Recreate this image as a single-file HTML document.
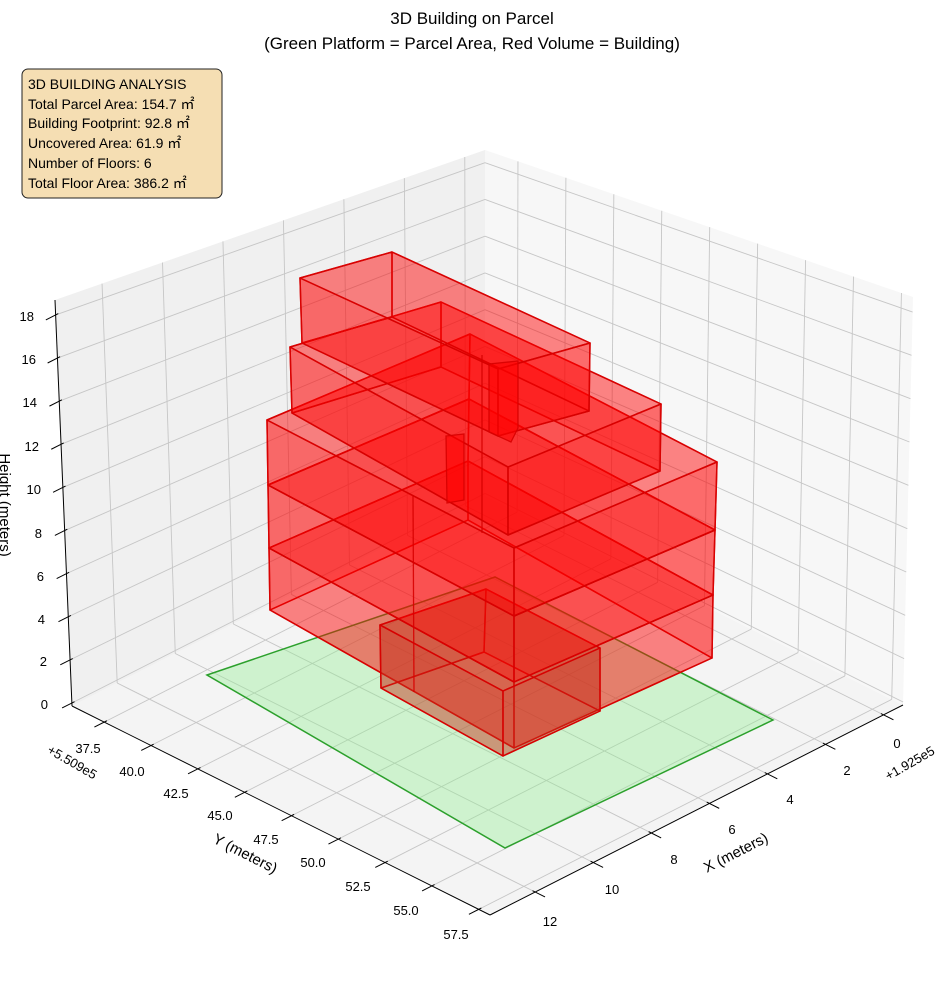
<!DOCTYPE html>
<html><head><meta charset="utf-8">
<style>
html,body{margin:0;padding:0;background:#fff;}
svg{display:block;font-family:"Liberation Sans","Noto Sans CJK JP",sans-serif;}
</style></head>
<body>
<svg id="s" width="944" height="992" viewBox="0 0 944 992" xmlns="http://www.w3.org/2000/svg">
<g id="panes"></g>
<g id="grid"></g>
<polygon points="207,675 495,577 773,720 505,848" fill="rgba(144,238,144,0.38)" stroke="#2ca02c" stroke-width="1.5"/>
<g id="bld"></g>
<g id="axes"></g>
<g font-size="17" fill="#000" text-anchor="middle">
<text x="472" y="24">3D Building on Parcel</text>
<text x="472" y="49">(Green Platform = Parcel Area, Red Volume = Building)</text>
</g>
<rect x="22" y="69" width="200" height="129" rx="6" fill="#f5deb3" stroke="#222" stroke-width="1"/>
<g font-size="14" fill="#000">
<text x="28" y="89">3D BUILDING ANALYSIS</text>
<text x="28" y="109">Total Parcel Area: 154.7 ㎡</text>
<text x="28" y="128">Building Footprint: 92.8 ㎡</text>
<text x="28" y="148">Uncovered Area: 61.9 ㎡</text>
<text x="28" y="168">Number of Floors: 6</text>
<text x="28" y="188">Total Floor Area: 386.2 ㎡</text>
</g>
<g font-size="13" fill="#000" text-anchor="end">
<text x="34" y="321">18</text>
<text x="36" y="364">16</text>
<text x="37" y="407">14</text>
<text x="39" y="451">12</text>
<text x="41" y="494">10</text>
<text x="42" y="538">8</text>
<text x="44" y="581">6</text>
<text x="45" y="624">4</text>
<text x="47" y="666">2</text>
<text x="48" y="709">0</text>
</g>
<g font-size="13" fill="#000" text-anchor="middle">
<text x="88" y="753">37.5</text>
<text x="132" y="776">40.0</text>
<text x="176" y="798">42.5</text>
<text x="220" y="820">45.0</text>
<text x="266" y="844">47.5</text>
<text x="313" y="867">50.0</text>
<text x="358" y="891">52.5</text>
<text x="406" y="915">55.0</text>
<text x="456" y="939">57.5</text>
<text x="897" y="748">0</text>
<text x="847" y="775">2</text>
<text x="790" y="804">4</text>
<text x="732" y="834">6</text>
<text x="674" y="864">8</text>
<text x="612" y="894">10</text>
<text x="550" y="926">12</text>
<text transform="translate(70,766) rotate(30)">+5.509e5</text>
<text transform="translate(912,767) rotate(-30)">+1.925e5</text>
</g>
<g font-size="15" fill="#000" text-anchor="middle">
<text transform="translate(243,858) rotate(27)">Y (meters)</text>
<text transform="translate(738,857) rotate(-27)">X (meters)</text>
<text transform="translate(0,505) rotate(90)">Height (meters)</text>
</g>
</svg>
<script>
(function(){
var NS="http://www.w3.org/2000/svg";
var B=[485,496],L=[72,706],R=[903,705],F=[490,915],Bt=[485,150],Lt=[55,300],Rt=[913,297],Ft=[483,447];
function bil(a,b,c,d,s,t){return [a[0]*(1-s)*(1-t)+b[0]*s*(1-t)+c[0]*(1-s)*t+d[0]*s*t, a[1]*(1-s)*(1-t)+b[1]*s*(1-t)+c[1]*(1-s)*t+d[1]*s*t];}
function P(s,t,z){var p=bil(B,R,L,F,s,t),q=bil(Bt,Rt,Lt,Ft,s,t);return [p[0]+(q[0]-p[0])*z,p[1]+(q[1]-p[1])*z];}
function el(g,tag,a){var e=document.createElementNS(NS,tag);for(var k in a)e.setAttribute(k,a[k]);document.getElementById(g).appendChild(e);return e;}
function pts(a){return a.map(function(p){return p[0].toFixed(1)+","+p[1].toFixed(1);}).join(" ");}
function line(g,a,b,c,w){el(g,"line",{x1:a[0],y1:a[1],x2:b[0],y2:b[1],stroke:c,"stroke-width":w});}
el("panes","polygon",{points:pts([B,L,Lt,Bt]),fill:"#f0f0f0"});
el("panes","polygon",{points:pts([B,R,Rt,Bt]),fill:"#f7f7f7"});
el("panes","polygon",{points:pts([B,R,F,L]),fill:"#f4f4f4"});
function tX(x){return 0.047+x*0.0703;}
function sY(y){return 0.077+(y-37.5)*0.0448;}
function zf(z){return 0.0074+z*0.0531;}
var gc="#c6c6c6",gw=0.9;
for(var x=0;x<=12;x+=2){var t=tX(x);line("grid",P(0,t,0),P(0,t,1),gc,gw);line("grid",P(0,t,0),P(1,t,0),gc,gw);}
for(var i=0;i<=8;i++){var s=sY(37.5+2.5*i);line("grid",P(s,0,0),P(s,0,1),gc,gw);line("grid",P(s,0,0),P(s,1,0),gc,gw);}
for(var z=0;z<=18;z+=2){var f=zf(z);line("grid",P(0,0,f),P(0,1,f),gc,gw);line("grid",P(0,0,f),P(1,0,f),gc,gw);}
line("axes",L,Lt,"#000",1);line("axes",L,F,"#000",1);line("axes",R,F,"#000",1);
var dt=[-0.89,0.45],ds=[0.895,0.448];
for(var z=0;z<=18;z+=2){var p=P(0,1,zf(z));line("axes",[p[0]-dt[0]*3,p[1]-dt[1]*3],[p[0]+dt[0]*11,p[1]+dt[1]*11],"#000",1);}
for(var i=0;i<=8;i++){var p=P(sY(37.5+2.5*i),1,0);line("axes",[p[0]-dt[0]*3,p[1]-dt[1]*3],[p[0]+dt[0]*11,p[1]+dt[1]*11],"#000",1);}
for(var x=0;x<=12;x+=2){var p=P(1,tX(x),0);line("axes",[p[0]-ds[0]*3,p[1]-ds[1]*3],[p[0]+ds[0]*11,p[1]+ds[1]*11],"#000",1);}
var TOP="rgba(255,0,0,0.2)",SIDE="rgba(255,0,0,0.34)",EDGE="rgba(215,0,0,0.9)";
function box(t,b,top,side){ top=top||TOP; side=side||SIDE;
  var faces=[[b,top],[[t[2],t[3],b[3],b[2]],side],[[t[3],t[0],b[0],b[3]],side],[t,top],[[t[0],t[1],b[1],b[0]],side],[[t[1],t[2],b[2],b[1]],side]];
  faces.forEach(function(f){el("bld","polygon",{points:pts(f[0]),fill:f[1],stroke:EDGE,"stroke-width":1.5,"stroke-linejoin":"round"});});
}
function four(L,F,R){return [L,F,R,[L[0]+R[0]-F[0],L[1]+R[1]-F[1]]];}
var z0=four([270,610],[514,748],[712,658]),z3=four([269,548],[514,682],[713,595]),z6=four([268,485],[514,616],[715,530]),z9=four([267,420],[514,548],[717,462]);
box(z3,z0);
box([[380,625],[503,691],[600,648],[486,589]],[[381,688],[503,756],[600,711],[484,652]],"rgba(190,60,30,0.2)","rgba(200,50,30,0.34)");
box(z6,z3);
box(z9,z6);
box([[290,347],[508,467],[661,404],[441,302]],[[292,413],[508,535],[660,471],[441,367]]);
box([[300,278],[498,369],[590,343],[392,252]],[[302,343],[498,436],[589,411],[392,317]]);
el("bld","polygon",{points:"446,436 464,434 464,500 447,503",fill:"rgba(255,0,0,0.55)",stroke:EDGE,"stroke-width":1.3});
el("bld","polygon",{points:"489,364 518,361 518,428 511,442 489,432",fill:"rgba(255,0,0,0.55)",stroke:EDGE,"stroke-width":1.3});
line("bld",[413,495],[414,692],EDGE,1.3);
line("bld",[482,355],[482,533],EDGE,1.3);
})();
</script>
</body></html>
